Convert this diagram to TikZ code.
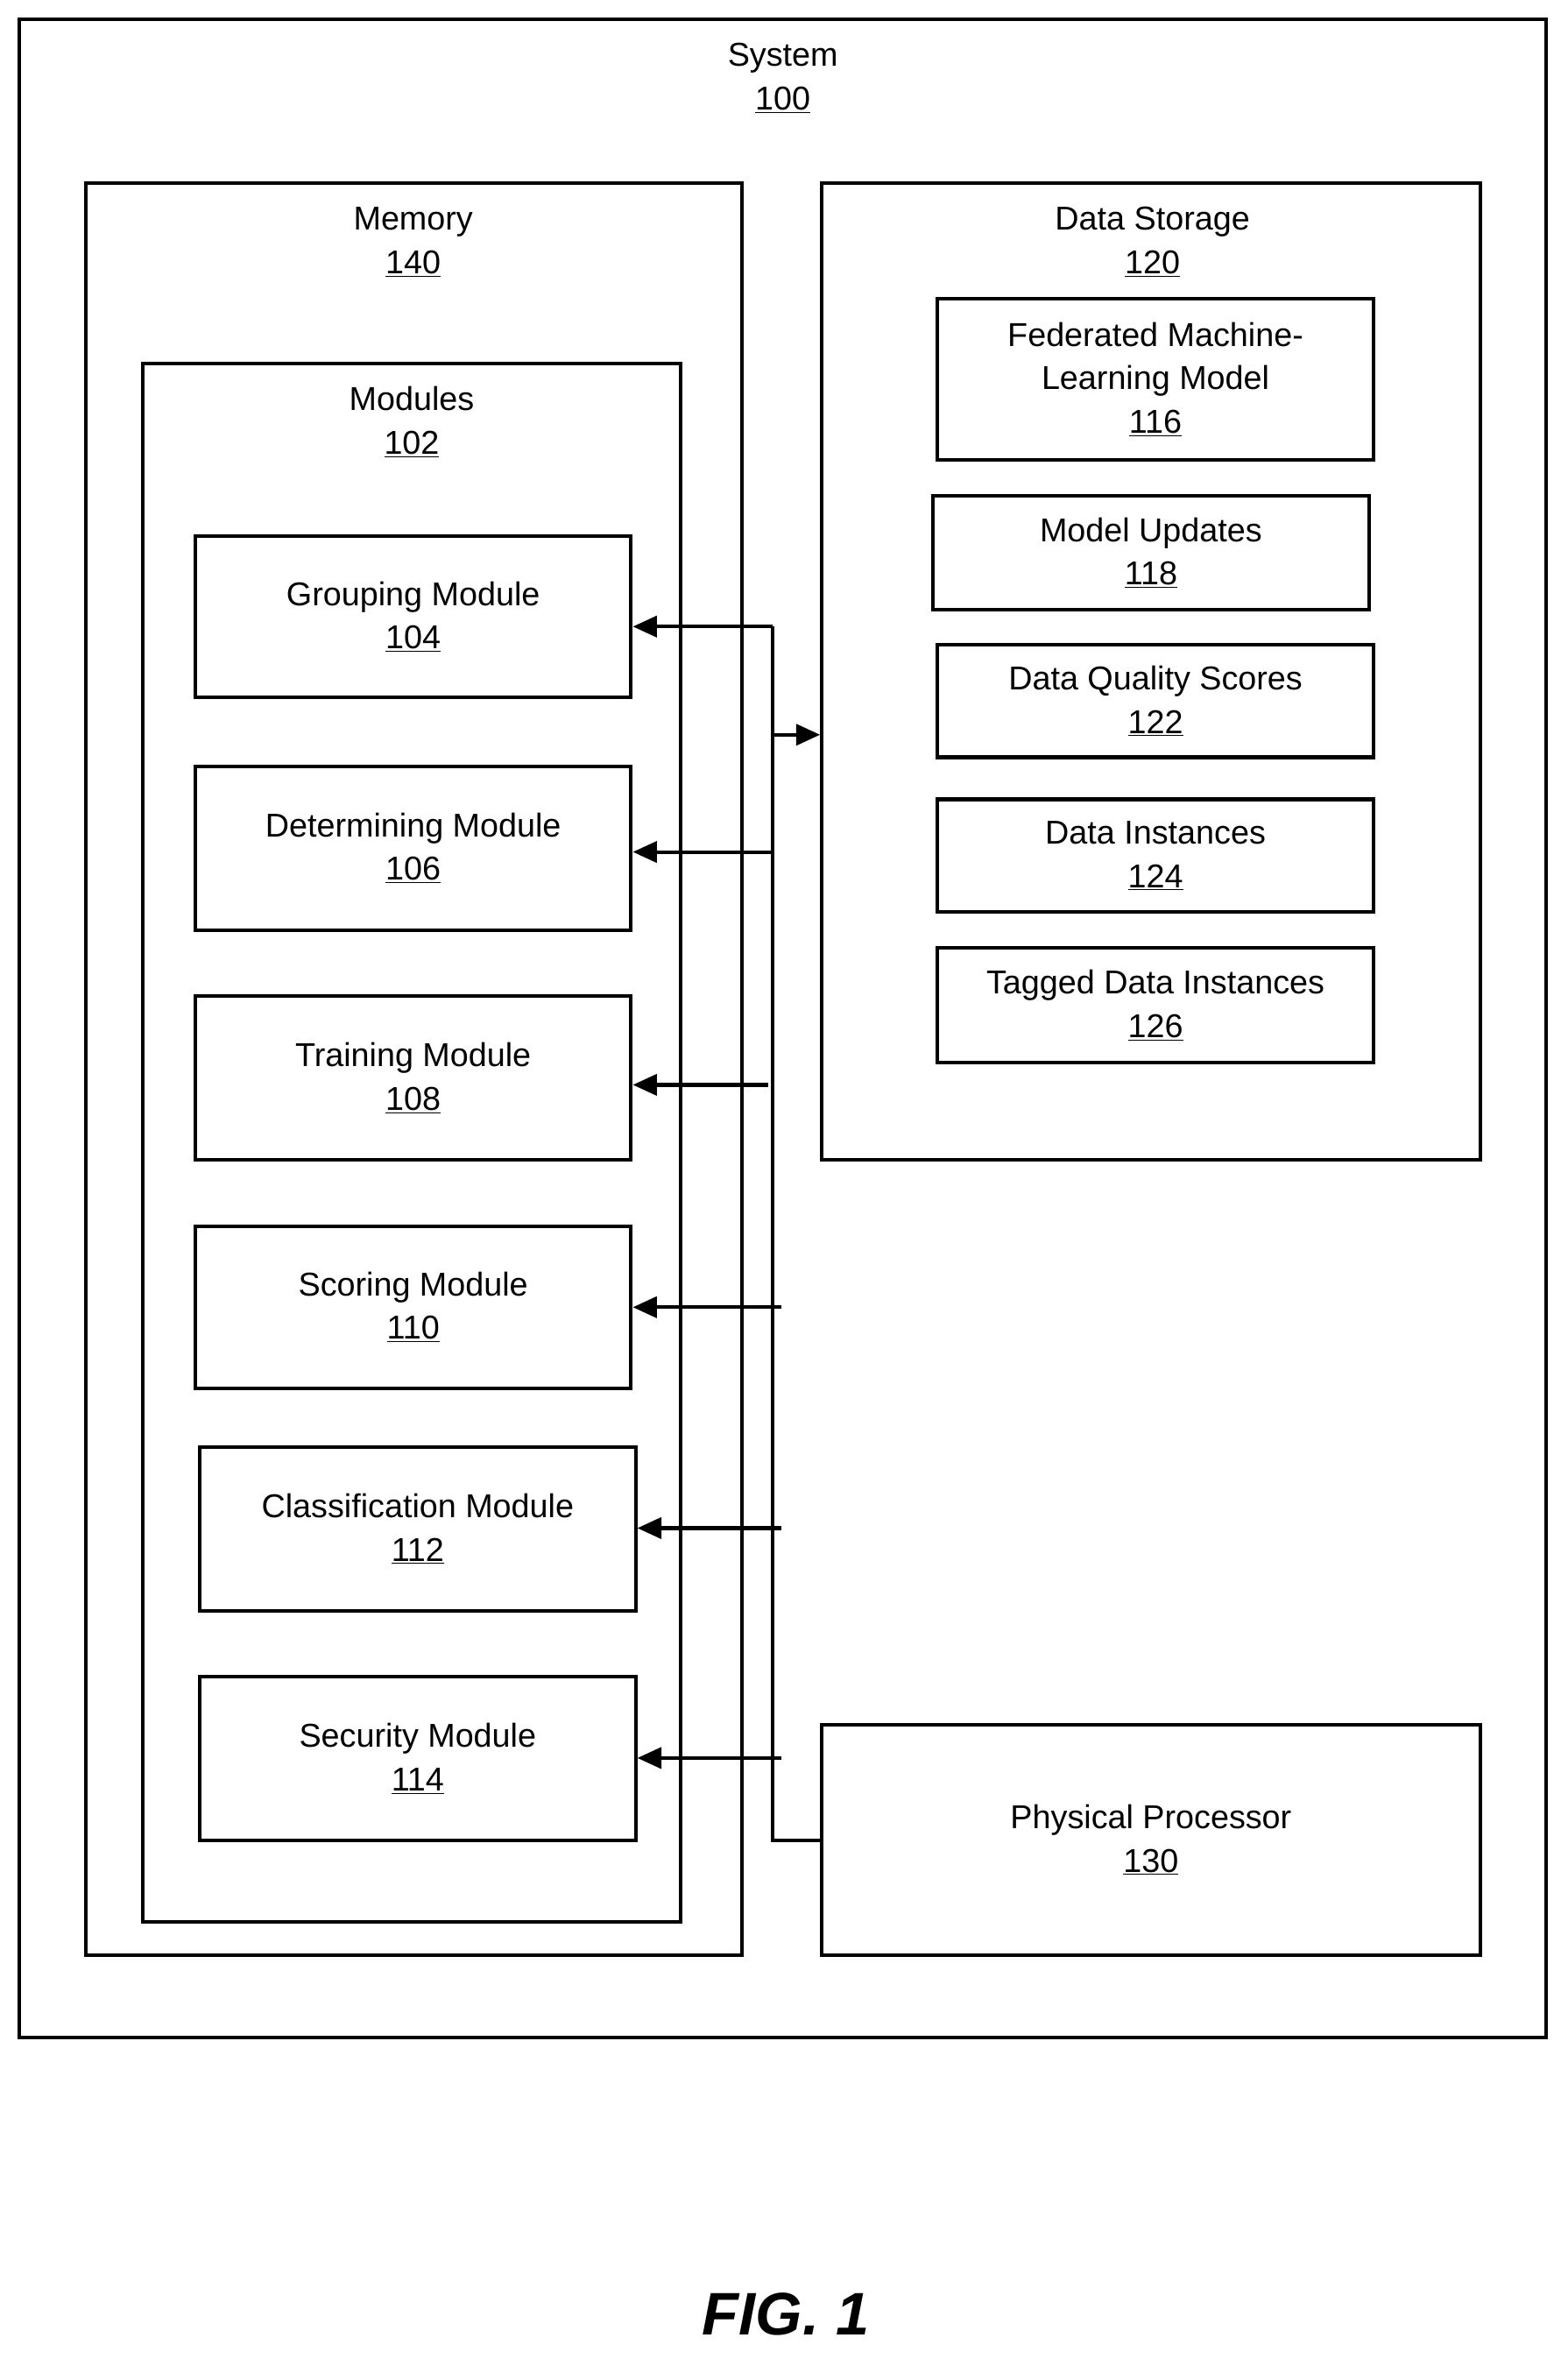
\documentclass[tikz,border=0pt]{standalone}
\usepackage{fontspec}
\setmainfont{Liberation Sans}
\usetikzlibrary{arrows.meta}
\begin{document}
\begin{tikzpicture}[x=1pt,y=-1pt,line width=2.4pt,
  box/.style={draw,rectangle,line width=2.4pt,inner sep=0pt,align=center,font=\fontsize{22}{29}\selectfont},
  lbl/.style={align=center,font=\fontsize{22}{29}\selectfont,inner sep=0pt},
  arr/.style={-{Triangle[length=16pt,width=14pt]}}]
\useasboundingbox (0,0) rectangle (1043,1570);
\newcommand{\mybox}[6]{\node[box,minimum width=#4-#2,minimum height=#5-#3] (#1) at ({(#2+#4)/2},{(#3+#5)/2}) {#6};}
% containers
\draw (13,13) rectangle (1029,1356);
\node[lbl] (sys) at (521,52) {System\\\underline{100}};
\draw (57,122) rectangle (494,1301);
\node[lbl] (mem) at (275,161) {Memory\\\underline{140}};
\draw (95,242) rectangle (453,1279);
\node[lbl] (mods) at (274,281) {Modules\\\underline{102}};
\mybox{ds}{547}{122}{985}{772}{}
\node[lbl] (dsl) at (767,161) {Data Storage\\\underline{120}};
% modules
\mybox{grp}{130}{357}{420}{464}{Grouping Module\\\underline{104}}
\mybox{det}{130}{510}{420}{619}{Determining Module\\\underline{106}}
\mybox{trn}{130}{663}{420}{772}{Training Module\\\underline{108}}
\mybox{scr}{130}{816}{420}{924}{Scoring Module\\\underline{110}}
\mybox{cls}{133}{963}{423}{1072}{Classification Module\\\underline{112}}
\mybox{sec}{133}{1116}{423}{1225}{Security Module\\\underline{114}}
% data
\mybox{fed}{624}{199}{914}{306}{Federated Machine-\\Learning Model\\\underline{116}}
\mybox{upd}{621}{330}{911}{406}{Model Updates\\\underline{118}}
\mybox{dqs}{624}{429}{914}{504}{Data Quality Scores\\\underline{122}}
\mybox{din}{624}{532}{914}{607}{Data Instances\\\underline{124}}
\mybox{tag}{624}{631}{914}{707}{Tagged Data Instances\\\underline{126}}
\mybox{proc}{547}{1148}{985}{1301}{Physical Processor\\\underline{130}}
% bus
\coordinate (b0) at (514,417);
\coordinate (b1) at (514,489);
\coordinate (b2) at (514,567);
\coordinate (b3) at (511,722);
\coordinate (b4) at (520,870);
\coordinate (b5) at (520,1017);
\coordinate (b6) at (520,1170);
\coordinate (bE) at (514,1225);
\draw (proc.west |- bE) -- (bE) -- (b0);
\draw[arr] (b0) -- (grp.east |- b0);
\draw[arr] (b1) -- (ds.west |- b1);
\draw[arr] (b2) -- (det.east |- b2);
\draw[arr] (b3) -- (trn.east |- b3);
\draw[arr] (b4) -- (scr.east |- b4);
\draw[arr] (b5) -- (cls.east |- b5);
\draw[arr] (b6) -- (sec.east |- b6);
\node[font=\fontsize{40}{44}\selectfont\bfseries\itshape] (fig) at (523,1540) {FIG. 1};
\end{tikzpicture}
\end{document}
